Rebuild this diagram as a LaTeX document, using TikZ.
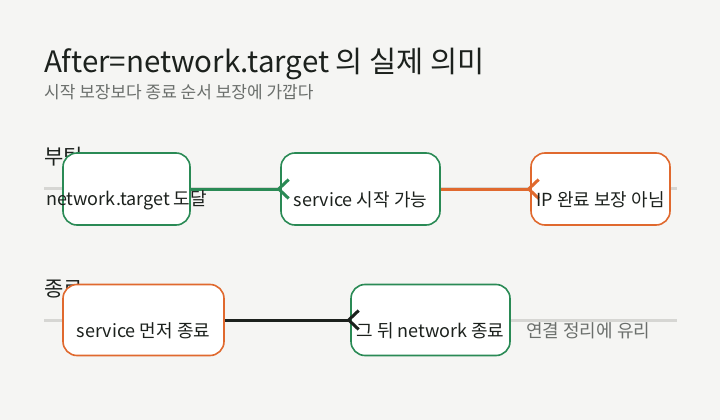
\documentclass[tikz,border=0pt]{standalone}
\usepackage{fontspec}
\setmainfont{Noto Sans CJK KR}
\usetikzlibrary{arrows.meta}
\definecolor{bgcol}{HTML}{F5F5F3}
\definecolor{okgreen}{HTML}{2A8A55}
\definecolor{warnorange}{HTML}{E0692E}
\definecolor{inkdark}{HTML}{1C211D}
\definecolor{rulegray}{HTML}{D6D6D3}
\definecolor{mutedgray}{HTML}{6B6F6C}
\tikzset{
  stage/.style={draw, fill=white, rounded corners=14pt, line width=1.6pt,
    minimum height=72pt, inner sep=0pt},
  stagetext/.style={font=\fontsize{18}{18}\selectfont, text=inkdark, inner sep=0pt},
  flow/.style={line width=3pt, shorten >=-10pt,
    -{Straight Barb[reversed,length=10pt,width=19pt]}},
  lane/.style={rulegray, line width=3pt},
  lanelabel/.style={anchor=west, font=\fontsize{21}{21}\selectfont, text=inkdark, inner sep=0pt},
}
\begin{document}
\begin{tikzpicture}[x=1pt,y=-1pt]
\useasboundingbox[fill=bgcol] (0,0) rectangle (720,420);

% title
\node[anchor=base west, font=\fontsize{29.5}{30}\selectfont, text=inkdark, inner sep=0pt] (title) at (44,72) {After=network.target 의 실제 의미};
\node[anchor=base west, font=\fontsize{17}{17}\selectfont, text=mutedgray, inner sep=0pt] (subtitle) at (44,98) {시작 보장보다 종료 순서 보장에 가깝다};

% lanes
\draw[lane] (44,188) coordinate (bootL) -- (677,188) coordinate (bootR);
\draw[lane] (44,320) coordinate (stopL) -- (677,320) coordinate (stopR);
\node[lanelabel] (bootlbl) at (44,157) {부팅};
\node[lanelabel] (stoplbl) at (44,289) {종료};

% boot row
\node[stage, draw=okgreen, minimum width=127pt] (netok) at (126.5,189) {};
\node[stage, draw=okgreen, minimum width=159pt] (svcstart) at (360.5,189) {};
\node[stage, draw=warnorange, minimum width=139pt] (noip) at (600.5,189) {};
\draw[flow, okgreen] (netok.east) -- (svcstart.west);
\draw[flow, warnorange] (svcstart.east) -- (noip.west);

% stop row
\node[stage, draw=warnorange, minimum width=161pt, minimum height=71pt] (svcstop) at (143.5,320) {};
\node[stage, draw=okgreen, minimum width=159pt, minimum height=71pt] (netstop) at (430.5,320) {};
\draw[flow, inkdark] (svcstop.east) -- (netstop.west);

% texts
\node[stagetext] (netoktxt) at ([yshift=-11pt]netok.center) {network.target 도달};
\node[stagetext] (svcstarttxt) at ([yshift=-11pt]svcstart.center) {service 시작 가능};
\node[stagetext] (noiptxt) at ([yshift=-11pt]noip.center) {IP 완료 보장 아님};
\node[stagetext] (svcstoptxt) at ([yshift=-11pt]svcstop.center) {service 먼저 종료};
\node[stagetext] (netstoptxt) at ([yshift=-11pt]netstop.center) {그 뒤 network 종료};
\node[stagetext, anchor=west, text=mutedgray] (note) at (526,331) {연결 정리에 유리};
\end{tikzpicture}
\end{document}
